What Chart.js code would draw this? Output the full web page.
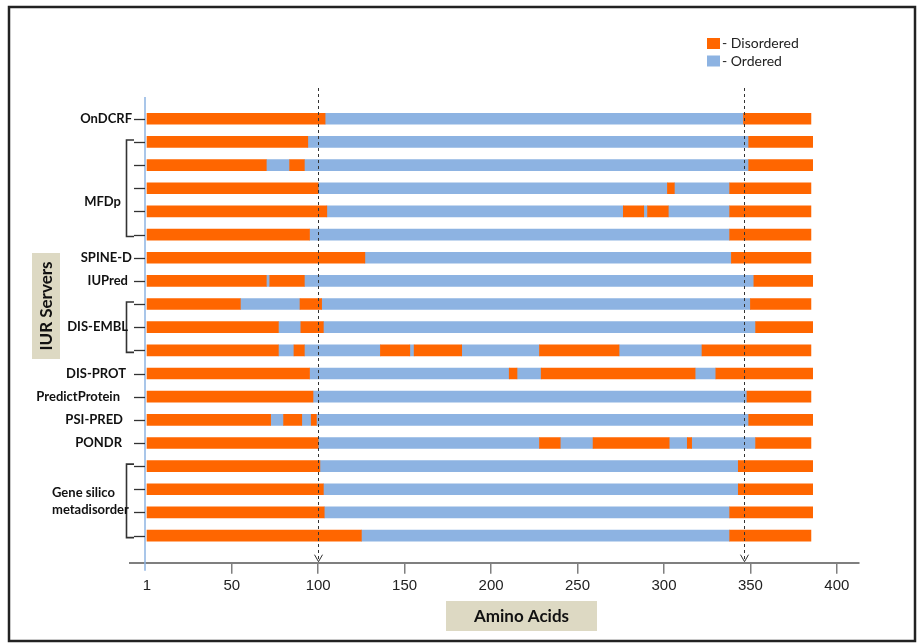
<!DOCTYPE html>
<html>
<head>
<meta charset="utf-8">
<script src="https://cdn.jsdelivr.net/npm/chart.js@4"></script>
<style>
  html, body { margin: 0; padding: 0; background: #ffffff; }
  #wrap { width: 919px; height: 644px; }
</style>
</head>
<body>
<div id="wrap"><canvas id="c" width="919" height="644"></canvas></div>
<script>
// ---- Data (amino-acid boundaries; segments alternate Disordered / Ordered, starting Disordered) ----
const servers = ['OnDCRF', 'MFDp', 'SPINE-D', 'IUPred', 'DIS-EMBL', 'DIS-PROT', 'PredictProtein', 'PSI-PRED', 'PONDR', 'Gene silico metadisorder'];
const serverRows = [[0], [1, 2, 3, 4, 5], [6], [7], [8, 9, 10], [11], [12], [13], [14], [15, 16, 17, 18]];

const onDCRF   = [1, 104, 346, 385];
const mfdp1    = [1, 94, 349, 386];
const mfdp2    = [1, 70, 83.5, 92, 349, 386];
const mfdp3    = [1, 100, 302, 306, 338, 385];
const mfdp4    = [1, 105, 276.5, 288.3, 290.5, 302.5, 338, 385];
const mfdp5    = [1, 95, 338, 385];
const spineD   = [1, 127, 339, 385];
const iuPred   = [1, 70, 72, 92, 352, 386];
const disEmbl1 = [1, 55, 89.5, 102, 350, 385];
const disEmbl2 = [1, 77, 90, 103, 353, 386];
const disEmbl3 = [1, 77, 86, 92, 136, 153, 155.5, 183, 228, 274, 322, 385];
const disProt  = [1, 95, 210.5, 215, 229, 318, 330, 386];
const predictProtein = [1, 97, 348, 385];
const psiPred  = [1, 72.5, 80, 90.5, 96, 99, 349, 386];
const pondr    = [1, 100, 228, 240, 259, 303, 313.5, 316, 353, 385];
const geneSilico1 = [1, 101, 343, 386];
const geneSilico2 = [1, 103, 343, 386];
const geneSilico3 = [1, 103.5, 338, 386];
const geneSilico4 = [1, 125, 338, 385];

const rows = [onDCRF, mfdp1, mfdp2, mfdp3, mfdp4, mfdp5, spineD, iuPred, disEmbl1, disEmbl2, disEmbl3,
              disProt, predictProtein, psiPred, pondr, geneSilico1, geneSilico2, geneSilico3, geneSilico4];

const xTicks = [1, 50, 100, 150, 200, 250, 300, 350, 400];
const markers = [100, 346];
const legendNames = ['Disordered', 'Ordered'];

// ---- Build floating-bar data ----
const disorderedData = [];
const orderedData = [];
rows.forEach((b, r) => {
  for (let i = 0; i < b.length - 1; i++) {
    const seg = { x: [b[i], b[i + 1]], y: r };
    (i % 2 === 0 ? disorderedData : orderedData).push(seg);
  }
});

const ORANGE = '#FF6600';
const BLUE = '#8DB3E2';
const FONT = 'Lato, "Open Sans", "Liberation Sans", sans-serif';
const Y_MIN = -0.94, Y_MAX = 19.17;
// label right edges (layout only)
const labelRight = { 'OnDCRF': 132, 'SPINE-D': 132, 'IUPred': 128, 'DIS-PROT': 126,
                     'PredictProtein': 120, 'PSI-PRED': 123, 'PONDR': 122, 'MFDp': 121, 'DIS-EMBL': 128 };

const decor = {
  id: 'decor',
  beforeDraw(chart) {
    const ctx = chart.ctx;
    ctx.save();
    ctx.fillStyle = '#ffffff';
    ctx.fillRect(0, 0, chart.width, chart.height);
    ctx.restore();
  },
  afterDatasetsDraw(chart) {
    const ctx = chart.ctx;
    const xs = chart.scales.x;
    const area = chart.chartArea;
    ctx.save();
    ctx.strokeStyle = BLUE;
    ctx.lineWidth = 1.5;
    ctx.beginPath();
    ctx.moveTo(145, area.top);
    ctx.lineTo(145, area.bottom + 8);
    ctx.stroke();
    ctx.strokeStyle = '#333';
    ctx.lineWidth = 1;
    markers.forEach(v => {
      const px = Math.round(xs.getPixelForValue(v)) + 0.5;
      ctx.setLineDash([3, 3]);
      ctx.beginPath();
      ctx.moveTo(px, 88);
      ctx.lineTo(px, area.bottom - 1);
      ctx.stroke();
      ctx.setLineDash([]);
      ctx.beginPath();
      ctx.moveTo(px - 4, area.bottom - 8);
      ctx.lineTo(px, area.bottom - 1);
      ctx.lineTo(px + 4, area.bottom - 8);
      ctx.stroke();
    });
    ctx.restore();
  },
  afterDraw(chart) {
    const ctx = chart.ctx;
    const ys = chart.scales.y;
    ctx.save();
    ctx.strokeStyle = '#333';
    ctx.fillStyle = '#111';
    ctx.lineWidth = 1.3;
    ctx.font = 'bold 13px ' + FONT;
    ctx.textBaseline = 'middle';
    servers.forEach((name, k) => {
      const rr = serverRows[k];
      rr.forEach(r => {
        const py = Math.round(ys.getPixelForValue(r)) + 0.5;
        ctx.beginPath();
        ctx.moveTo(134, py);
        ctx.lineTo(145, py);
        ctx.stroke();
      });
      const y0 = ys.getPixelForValue(rr[0]);
      const y1 = ys.getPixelForValue(rr[rr.length - 1]);
      if (rr.length === 1) {
        ctx.textAlign = 'right';
        ctx.fillText(name, labelRight[name] || 128, y0);
      } else {
        const bx = 126.5;
        ctx.lineWidth = 1.6;
        ctx.beginPath();
        ctx.moveTo(134, y0 - 2);
        ctx.lineTo(bx, y0 - 2);
        ctx.lineTo(bx, y1 + 2);
        ctx.lineTo(134, y1 + 2);
        ctx.stroke();
        ctx.lineWidth = 1.3;
        const mid = (y0 + y1) / 2;
        if (name === 'Gene silico metadisorder') {
          ctx.textAlign = 'left';
          ctx.fillText('Gene silico', 52, mid - 8.5);
          ctx.fillText('metadisorder', 52, mid + 9);
        } else if (name === 'MFDp') {
          ctx.textAlign = 'right';
          ctx.fillText(name, labelRight[name], mid + 14);
        } else {
          ctx.textAlign = 'right';
          ctx.fillText(name, labelRight[name] || 128, mid);
        }
      }
    });

    ctx.fillStyle = '#DDD9C3';
    ctx.fillRect(32, 253, 28, 106);
    ctx.save();
    ctx.translate(47, 306);
    ctx.rotate(-Math.PI / 2);
    ctx.fillStyle = '#111';
    ctx.font = 'bold 17px ' + FONT;
    ctx.textAlign = 'center';
    ctx.textBaseline = 'middle';
    ctx.fillText('IUR Servers', 0, 0);
    ctx.restore();

    ctx.fillStyle = '#DDD9C3';
    ctx.fillRect(446, 601, 151, 30);
    ctx.fillStyle = '#111';
    ctx.font = 'bold 17px ' + FONT;
    ctx.textAlign = 'center';
    ctx.textBaseline = 'middle';
    ctx.fillText('Amino Acids', 521.5, 616.5);

    ctx.font = '14px ' + FONT;
    ctx.textAlign = 'left';
    ctx.textBaseline = 'middle';
    ctx.fillStyle = ORANGE;
    ctx.fillRect(707, 38, 13, 11);
    ctx.fillStyle = BLUE;
    ctx.fillRect(707, 55.5, 13, 11);
    ctx.fillStyle = '#222';
    ctx.fillText('- ' + legendNames[0], 722, 43.5);
    ctx.fillText('- ' + legendNames[1], 722, 61);

    ctx.strokeStyle = '#222';
    ctx.lineWidth = 2.5;
    ctx.strokeRect(9, 7, 906, 634);
    ctx.restore();
  }
};

new Chart(document.getElementById('c'), {
  type: 'bar',
  data: {
    datasets: [
      { label: legendNames[0], data: disorderedData, backgroundColor: ORANGE, borderWidth: 0 },
      { label: legendNames[1], data: orderedData, backgroundColor: BLUE, borderWidth: 0 }
    ]
  },
  options: {
    indexAxis: 'y',
    responsive: false,
    animation: false,
    devicePixelRatio: 1,
    grouped: false,
    barPercentage: 1,
    categoryPercentage: 1,
    maxBarThickness: 11,
    layout: { padding: { top: 97, left: 130, right: 60, bottom: 41.3 } },
    plugins: { legend: { display: false }, tooltip: { enabled: false } },
    scales: {
      x: {
        type: 'linear',
        position: 'bottom',
        min: -8.83,
        max: 412.8,
        afterBuildTicks(scale) { scale.ticks = xTicks.map(v => ({ value: v })); },
        afterFit(scale) { scale.height = 40; },
        grid: {
          drawOnChartArea: false,
          drawTicks: true,
          tickLength: 11,
          color: ctx => (ctx.tick && ctx.tick.value === 1) ? 'rgba(0,0,0,0)' : '#7f7f7f',
          lineWidth: 1.5
        },
        border: { display: true, color: '#7f7f7f', width: 2 },
        ticks: {
          autoSkip: false,
          maxRotation: 0,
          padding: 3,
          color: '#222',
          font: { family: '"Liberation Sans", Arial, sans-serif', size: 15 },
          callback: v => String(v)
        }
      },
      y: {
        type: 'linear',
        reverse: true,
        offset: false,
        grace: 0,
        bounds: 'data',
        min: Y_MIN,
        max: Y_MAX,
        afterDataLimits(scale) { scale.min = Y_MIN; scale.max = Y_MAX; },
        afterBuildTicks(scale) {
          scale.min = Y_MIN; scale.max = Y_MAX;
          scale.ticks = rows.map((_, i) => ({ value: i }));
        },
        display: false
      }
    }
  },
  plugins: [decor]
});
</script>
</body>
</html>
